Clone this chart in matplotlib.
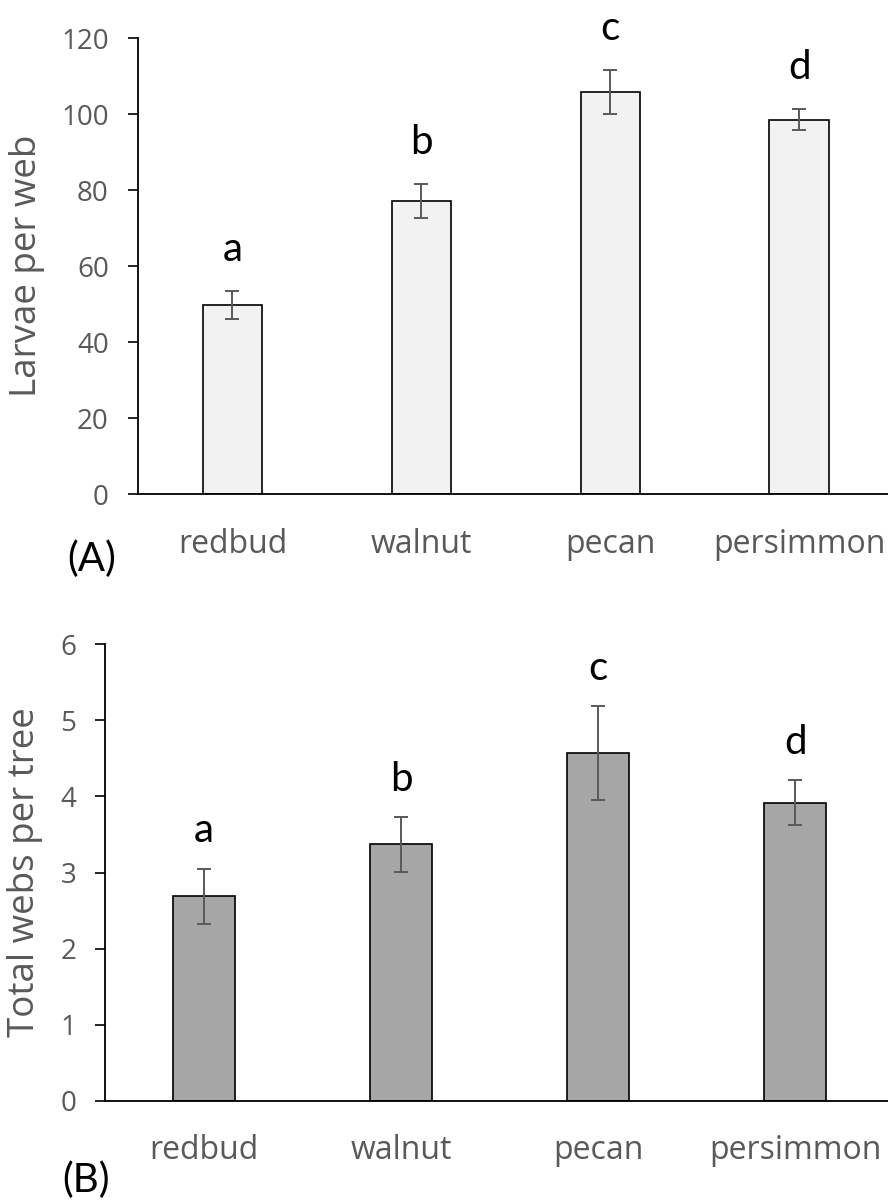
import numpy as np
import matplotlib
matplotlib.use('Agg')
import matplotlib.pyplot as plt

# data
trees = ['redbud', 'walnut', 'pecan', 'persimmon']
groups = ['a', 'b', 'c', 'd']

larvae_mean = [49.8, 77.2, 105.8, 98.6]
larvae_err = [3.6, 4.4, 5.8, 2.7]

webs_mean = [2.69, 3.37, 4.57, 3.92]
webs_err = [0.36, 0.36, 0.62, 0.29]

gray_txt = '#595959'
plt.rcParams['font.family'] = ['Open Sans', 'DejaVu Sans']

fig = plt.figure(figsize=(8.88, 12.03), dpi=100)

axa = fig.add_axes([0.1554, 0.5891, 0.8446, 0.3791])
axb = fig.add_axes([0.1186, 0.0850, 0.8814, 0.3794])


def panel(ax, means, errs, fill, ylim, ystep, ylabel, offset):
    x = np.arange(len(trees))
    ax.bar(x, means, width=0.315, color=fill, edgecolor='black', linewidth=1.2, zorder=2)
    ax.errorbar(x, means, yerr=errs, fmt='none', ecolor=gray_txt, elinewidth=1.4,
                capsize=5, capthick=1.4, zorder=3)
    for xi, m, e, g in zip(x, means, errs, groups):
        ax.annotate(g, (xi, m + e), xytext=(0, offset), textcoords='offset points',
                    ha='center', va='baseline', fontsize=29, family=['Lato', 'DejaVu Sans'],
                    color='black')
    ax.set_xlim(-0.5, 3.47)
    ax.set_ylim(*ylim)
    ax.set_yticks(np.arange(ylim[0], ylim[1] + ystep / 2, ystep))
    ax.set_xticks(x)
    ax.set_xticklabels(trees)
    ax.spines['top'].set_visible(False)
    ax.spines['right'].set_visible(False)
    for s in ['left', 'bottom']:
        ax.spines[s].set_linewidth(1.3)
    ax.tick_params(axis='y', direction='out', length=7, width=1.2, pad=14,
                   labelsize=20, labelcolor=gray_txt, color='black')
    ax.tick_params(axis='x', length=0, pad=24, labelsize=23, labelcolor=gray_txt)
    ax.set_ylabel(ylabel, fontsize=26.5, color=gray_txt, labelpad=12)
    ax.spines['left'].set_bounds(ylim[0], ylim[1])


panel(axa, larvae_mean, larvae_err, '#f2f2f2', (0, 120), 20, 'Larvae per web', 22)
panel(axb, webs_mean, webs_err, '#a6a6a6', (0, 6), 1, 'Total webs per tree', 19)

fig.text(92 / 888, 1 - 559 / 1203, '(A)', fontsize=29, ha='center', va='center',
         family=['Lato', 'DejaVu Sans'])
fig.text(86 / 888, 1 - 1180 / 1203, '(B)', fontsize=29, ha='center', va='center',
         family=['Lato', 'DejaVu Sans'])

fig.savefig('out.png', dpi=100)
